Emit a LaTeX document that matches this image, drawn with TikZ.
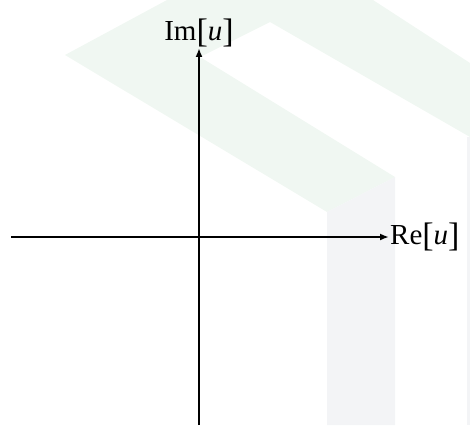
\documentclass[tikz,border=0pt]{standalone}
\usepackage{fontspec}
\setmainfont{Liberation Serif}
\usetikzlibrary{arrows.meta}
\definecolor{wmgreen}{RGB}{240,247,242}
\definecolor{wmgray}{RGB}{243,244,246}
\newcommand\sqb[1]{\raisebox{-2pt}{\fontsize{34}{34}\selectfont#1}}

\begin{document}
\begin{tikzpicture}[x=1pt,y=-1pt,
    axis/.style={line width=2pt,-{Latex[length=9pt,width=7pt]}},
    lbl/.style={font=\fontsize{29}{32}\selectfont,inner sep=1pt}]
    \useasboundingbox (0,0) rectangle (470,425);
    % faint background
    \fill[wmgreen] (65,55) -- (167,0) -- (373,0) -- (470,63) -- (470,137) -- (270,22) -- (200,57) -- (395,177) -- (327,212) -- cycle;
    \fill[wmgray] (327,212) -- (395,177) -- (395,425) -- (327,425) -- cycle;
    \fill[wmgray] (467,137) rectangle (470,425);
    % axes
    \coordinate (xl) at (11,237);
    \coordinate (yb) at (199,425);
    \node[lbl,anchor=west] (re) at (389,237) {Re\sqb{[}\textit{u}\sqb{]}};
    \node[lbl,anchor=south] (im) at (199,48) {Im\sqb{[}\textit{u}\sqb{]}};
    \draw[axis] (xl) -- (re.west);
    \draw[axis] (yb) -- (im.south);
\end{tikzpicture}
\end{document}
